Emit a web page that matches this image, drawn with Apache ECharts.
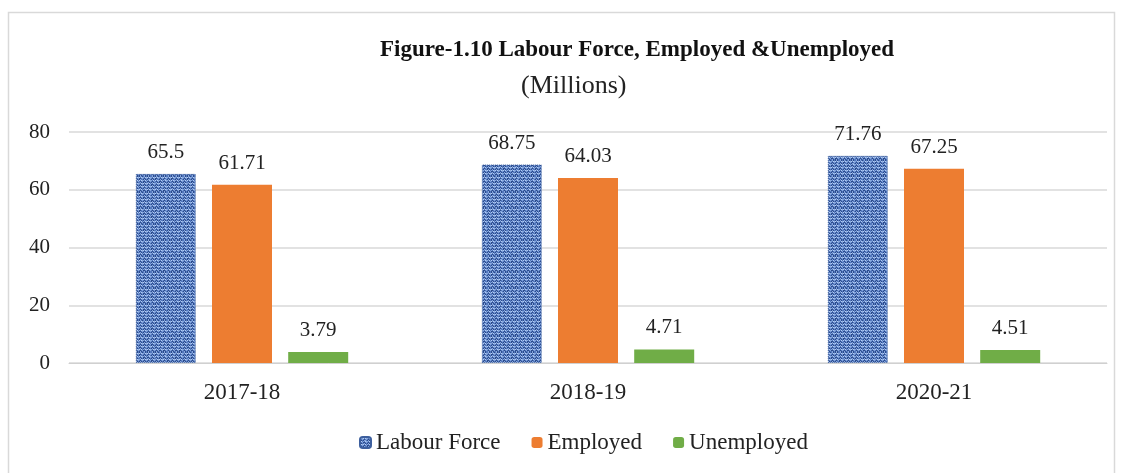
<!DOCTYPE html>
<html><head><meta charset="utf-8">
<script src="https://cdn.jsdelivr.net/npm/echarts@6/dist/echarts.min.js"></script>
<style>html,body{margin:0;padding:0;background:#fff}#c{width:1122px;height:473px}</style>
</head><body><div id="c"></div>
<script>
const categories = ['2017-18', '2018-19', '2020-21'];
const labourForce = [65.5, 68.75, 71.76];
const employed = [61.71, 64.03, 67.25];
const unemployed = [3.79, 4.71, 4.51];
const yTicks = [0, 20, 40, 60, 80];

function makePattern() {
  const map = [
    '2010201120102101',
    '1323132213231322',
    '0121012101200121',
    '2010221020102110',
    '1312132213131322',
    '0120012101210120',
    '2011201020112010',
    '1323131213221323',
    '0121012001210121',
    '2010211020102010',
    '1322132313121323',
    '0121012101200121',
    '2110201020112010',
    '1323132213231312',
    '0120012101210120',
    '2010201120102011'
  ];
  const cols = ['#2b4b8c', '#5277bd', '#86a7dd', '#b5cdf2'];
  const c = document.createElement('canvas');
  c.width = 16; c.height = 16;
  const g = c.getContext('2d');
  for (let y = 0; y < 16; y++) for (let x = 0; x < 16; x++) {
    g.fillStyle = cols[+map[y][x]]; g.fillRect(x, y, 1, 1);
  }
  return c;
}
const pat = {image: makePattern(), repeat: 'repeat'};

const font = 'Liberation Serif, DejaVu Serif, serif';
const chart = echarts.init(document.getElementById('c'));
const lbl = {show: true, position: 'top', distance: 11, fontFamily: font, fontSize: 21, color: '#222'};
chart.setOption({
  animation: false,
  graphic: [{type: 'rect', shape: {x: 8.5, y: 12.5, width: 1106, height: 470}, style: {fill: 'none', stroke: '#d9d9d9', lineWidth: 1.5}}],
  title: [{
    text: 'Figure-1.10 Labour Force, Employed &Unemployed',
    left: 375, top: 34,
    textStyle: {fontFamily: font, fontWeight: 'bold', fontSize: 23, color: '#111'}
  }, {
    text: '(Millions)',
    left: 516, top: 68,
    textStyle: {fontFamily: font, fontWeight: 'normal', fontSize: 26, color: '#222'}
  }],
  legend: {
    bottom: 14, left: 354, itemWidth: 11, itemHeight: 11, itemGap: 31,
    textStyle: {fontFamily: font, fontSize: 23, color: '#222', padding: [0, 0, 0, 0]},
    data: ['Labour Force', 'Employed', 'Unemployed']
  },
  grid: {left: 69, right: 15, top: 132, bottom: 110},
  xAxis: {
    type: 'category', data: categories,
    axisTick: {show: false},
    axisLine: {lineStyle: {color: '#d0d0d0', width: 1}},
    axisLabel: {fontFamily: font, fontSize: 23, color: '#222', margin: 18}
  },
  yAxis: {
    type: 'value', min: 0, max: 80, interval: 20,
    axisLabel: {fontFamily: font, fontSize: 21, color: '#222', margin: 19},
    splitLine: {lineStyle: {color: '#d9d9d9', width: 1.5}},
    axisLine: {show: false}, axisTick: {show: false}
  },
  series: [
    {name: 'Labour Force', type: 'bar', data: labourForce, barWidth: 60, barGap: '27%',
     itemStyle: {color: pat, borderColor: '#3d5f9e', borderWidth: 1, borderType: 'dotted'}, label: lbl},
    {name: 'Employed', type: 'bar', data: employed, barWidth: 60,
     itemStyle: {color: '#ed7d31'}, label: lbl},
    {name: 'Unemployed', type: 'bar', data: unemployed, barWidth: 60,
     itemStyle: {color: '#70ad47'}, label: lbl}
  ]
});
</script></body></html>
